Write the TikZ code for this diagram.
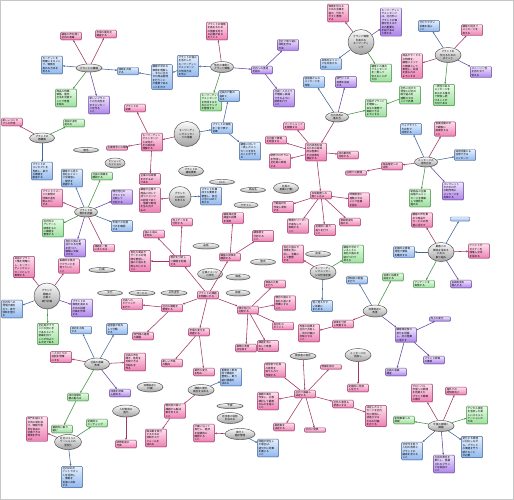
\documentclass[tikz,border=0pt]{standalone}
\usepackage{fontspec}
\setmainfont{Noto Sans CJK JP}
\usetikzlibrary{shapes.geometric,arrows.meta,shadows}
\definecolor{pkT}{HTML}{FDE2EE}\definecolor{pkB}{HTML}{EE80B4}\definecolor{pkD}{HTML}{A03464}
\definecolor{blT}{HTML}{E6F0FD}\definecolor{blB}{HTML}{90B8EE}\definecolor{blD}{HTML}{44659A}
\definecolor{grT}{HTML}{E8FBE8}\definecolor{grB}{HTML}{9CE09C}\definecolor{grD}{HTML}{449044}
\definecolor{puT}{HTML}{F0E6FD}\definecolor{puB}{HTML}{AE84EA}\definecolor{puD}{HTML}{6644A0}
\definecolor{elT}{HTML}{FBFBFB}\definecolor{elB}{HTML}{A2A2A2}\definecolor{elD}{HTML}{505050}
\tikzset{
 shd/.style={drop shadow={shadow xshift=0.5pt,shadow yshift=-0.5pt,fill=black!35}},
 bx/.style={draw,rounded corners=0.8pt,line width=0.45pt,inner sep=0.9pt,text width=19pt,align=left,font=\fontsize{2.6}{3.4}\selectfont,shd},
 pk/.style={bx,draw=pkD,top color=pkT,bottom color=pkB},
 bl/.style={bx,draw=blD,top color=blT,bottom color=blB},
 gr/.style={bx,draw=grD,top color=grT,bottom color=grB},
 pu/.style={bx,draw=puD,top color=puT,bottom color=puB},
 E/.style 2 args={ellipse,draw=elD,line width=0.45pt,top color=elT,bottom color=elB,inner sep=0pt,align=center,font=\fontsize{2.6}{3.4}\selectfont,minimum width=#1pt,minimum height=#2pt,shd},
 ln/.style={line width=0.55pt,-{Stealth[length=2.2pt,width=1.8pt]}},
 lp/.style={ln,draw=pkD},lb/.style={ln,draw=blD},lg/.style={ln,draw=grD},lu/.style={ln,draw=puD}
}
\begin{document}
\begin{tikzpicture}[x=1pt,y=-1pt]
\useasboundingbox (0,0) rectangle (514,500);
\fill[white] (0,0) rectangle (514,500);
\draw[gray!45,line width=0.6pt] (0.8,0.8) rectangle (513.2,499.2);
% ---- cluster A
\node[E={26}{8}] (eA) at (89,68) {ブランドの課題};
\node[pk] (a1) at (71,36) {顧客の声を聞く\\社内の意識};
\node[pk] (a2) at (106,34) {市場の動向を\\調査する};
\node[bl] (a3) at (52,65) {ターゲットを\\明確にすること\\で、価値を\\高める方法を\\考える};
\node[gr] (a4) at (66,98) {商品の特徴、\\価格、販売\\方法を見直す\\ことで改善\\を図る};
\node[pu] (a5) at (99,105) {新しいブラン\\ドの方向性を\\示すメッセー\\ジを作る\\こと};
\node[bl] (a6) at (128,71) {情報を共有\\する};
% ---- cluster B
\node[E={23}{11}] (eB) at (222,67) {他社の事例と\\ブランド戦略};
\node[pk] (b1) at (217,31) {ブランドの価値\\を高めるため\\の施策を考え\\る必要がある\\ポイント};
\node[bl] (b2) at (188,66) {ブランドの強み\\を活かした\\キーワーディン\\グメッセージ\\の作成方法\\を学ぶ};
\node[bl] (b3) at (162,77) {顧客が求める\\価値を理解し\\、それに合わ\\せた商品開発\\を行うこと\\が重要である\\ことを示す};
\node[pu] (b4) at (262,70) {社内への浸透\\を図る};
\node[gr] (b5) at (211,102) {キーワーディン\\グメッセージ\\を作成するた\\めのステップ\\を整理する};
\node[pu] (b6) at (288,45) {全社で取り組む\\体制を作る\\方法};
\node[pu] (b7) at (284,98) {社員一人ひとり\\が理解し実践\\できるように\\研修を行う\\こと};
% ---- cluster C
\node[E={26}{25}] (eC) at (361,42) {ブランド価値\\を高める\\キーワーディ\\ング};
\node[pk] (c1) at (338,13) {価値を伝える\\ための言葉を\\選び、分かり\\やすく表現\\する};
\node[pu] (c2) at (391,22) {キーワーディン\\グメッセージ\\は、社内外に\\ブランドの価\\値を伝えるた\\めの重要な\\手段である\\と考える};
\node[bl] (c3) at (331,64) {具体的なイメー\\ジを共有する\\方法};
\node[gr] (c4) at (381,73) {顧客との接点\\でメッセージ\\を一貫して\\伝えることが\\大切};
% ---- cluster D
\node[E={23}{10}] (eD) at (337,117) {社内浸透の\\進め方};
\node[bl] (d1) at (314,82) {経営層からの\\メッセージを\\発信};
\node[pu] (d2) at (346,82) {部門ごとの\\目標を設定\\する};
\node[gr] (d3) at (376,108) {社員がブランド\\を理解し、\\日々の業務で\\実践できる\\ようにする};
\node[pk] (d4) at (316,152) {社内浸透を図\\るための具体\\的な施策と\\その効果を\\検証する};
\node[pk] (d5) at (294,126) {ワークショップ\\を開催する};
\node[pk] (d6) at (276,140) {社内報で情報\\を発信する};
\node[pk] (d7) at (280,161) {研修プログラム\\を作成し、\\全社員に実施\\する};
\node[pk] (d8) at (348,155) {成功事例を\\共有する};
\node[pk] (d9) at (321,195) {日常業務への\\落とし込み};
% ---- cluster E
\node[pk] (e1) at (283,207) {行動指針を\\作成し周知\\する};
\node[pk] (e2) at (359,200) {評価制度と\\連動させる\\ことで定着\\を図る};
\node[pk] (e3) at (298,226) {現場のリーダー\\が率先して\\実践する\\こと};
\node[pk] (e4) at (325,230) {定期的に振り\\返りを行う\\こと};
\node[pk] (e5) at (350,222) {表彰制度を\\設ける};
% ---- cluster F
\node[E={26}{15}] (eF) at (448,55) {ブランドを\\伝えるための\\ポイント};
\node[bl] (f1) at (429,26) {分かりやすい\\言葉を選ぶ\\こと};
\node[pk] (f2) at (472,30) {顧客の視点で\\メッセージを\\考える};
\node[pk] (f3) at (412,66) {商品やサービス\\の特徴を、\\顧客にとって\\の価値として\\表現し、共感\\を得られる\\ようにする};
\node[pu] (f4) at (481,72) {ストーリー性\\を持たせて\\伝える};
\node[gr] (f5) at (444,95) {一貫性のある\\メッセージを\\あらゆる接点\\で発信し続\\けることが\\大切である};
\node[gr] (f6) at (410,95) {社外に向けた\\発信と社内の\\取り組みを\\連動させる\\ことで効果};
% ---- cluster G
\node[E={23}{10}] (eG) at (426,162) {メッセージの\\活用方法};
\node[bl] (g1) at (411,129) {ウェブサイト\\や広告で\\活用する};
\node[pk] (g2) at (445,129) {営業活動の中\\で顧客に\\直接伝える\\こと};
\node[bl] (g3) at (465,155) {採用活動にも\\活用できる\\メッセージ};
\node[pk] (g4) at (392,166) {商品開発への\\活用};
\node[gr] (g5) at (420,198) {新商品の企画\\段階からメッ\\セージを意識\\して開発を\\進める};
\node[pu] (g6) at (453,191) {パンフレット\\やカタログ\\の制作時に\\メッセージを\\反映する};
\node[pk] (g7) at (356,173) {店頭での展開};
% ---- cluster H
\node[E={26}{19}] (eH) at (441,252) {顧客との\\関係を深める\\ための\\取り組み};
\node[pk] (h1) at (422,220) {顧客の声を集\\めて商品や\\サービスの改\\善に活かす};
\node[bl,minimum height=4pt,inner sep=0pt] (h2) at (460,219) {};
\node[bl] (h3) at (404,252) {定期的な情報\\発信で関係\\を維持する};
\node[pk] (h4) at (479,251) {イベントや\\セミナーを\\開催し交流\\を深める};
\node[gr] (h5) at (424,284) {アンケートを\\実施する};
\node[pu] (h6) at (461,284) {会員制度を\\導入する};
% ---- cluster I
\node[E={24}{12}] (eI) at (375,311) {効果測定と\\改善};
\node[gr] (i1) at (393,277) {目標と指標を\\設定する};
\node[bl] (i2) at (357,280) {認知度の調査\\を行う};
\node[pk] (i3) at (343,324) {結果を分析\\し改善する};
\node[pu] (i4) at (406,335) {顧客満足度の\\変化を把握\\し、次の施策\\に活かす};
\node[pk] (i5) at (309,333) {改善の結果を\\社内で共有し\\、次の計画に\\反映させる\\こと};
\node[pu] (i6) at (440,319) {売上の変化};
\node[pu] (i7) at (434,360) {ブランド評価\\の推移};
\node[pu] (i8) at (396,372) {社員の意識\\調査};
% ---- cluster J
\node[E={26}{15}] (eJ) at (323,272) {キーワーディ\\ングメッセー\\ジの作成手順};
\node[pk] (j1) at (293,254) {自社の強みや\\特徴を洗い\\出し、言葉に\\して整理\\する};
\node[gr] (j2) at (353,254) {顧客が求めて\\いることと\\自社の強みを\\結びつけて\\考える};
\node[bl] (j3) at (322,306) {短く覚えやす\\い言葉に\\まとめる};
\node[E={25}{6}] (ej) at (318,254) {完成};
% ---- cluster K
\node[pk] (k0) at (305,394) {社内で議論し\\決定する};
\node[E={26}{7}] (ek) at (303,356) {関係者の意見};
\node[pk] (k1) at (275,370) {経営者や社員\\の意見を\\取り入れて\\作成する};
\node[pk] (k2) at (331,367) {候補を絞る};
\node[pk] (k3) at (268,401) {複数の案を\\作成し、比較\\検討して最適\\なものを選ぶ\\こと};
\node[pk] (k4) at (343,404) {社外の意見も\\参考にする};
\node[pk] (k5) at (284,427) {最終案を\\決定する};
\node[pk] (k6) at (315,430) {社内に発表};
\node[pk] (k7) at (376,416) {決定したメッ\\セージを社内\\外に発信し、\\浸透させる\\ための計画\\を立てる};
\node[E={26}{13}] (el2) at (358,355) {メッセージの\\見直し};
\node[pk] (k8) at (358,388) {定期的に見直\\しを行う};
\node[pk] (k9) at (268,346) {課題を洗い\\出して改善\\する};
% ---- cluster L
\node[pk] (pL) at (208,295) {ブランドの課題\\を明確にする};
\node[pk] (l1) at (180,261) {現状を分析し\\て課題を把握\\する};
\node[pk] (l2) at (230,257) {顧客の評価を\\確認する};
\node[pk] (l3) at (172,308) {社内の課題を\\整理する};
\node[pk] (l4) at (199,332) {市場の変化を\\把握する};
\node[pk] (l5) at (248,310) {競合他社と\\比較する};
\node[pk] (l6) at (182,222) {売上データを\\分析する};
\node[pk] (l7) at (154,234) {強みと弱み\\を知る};
\node[pk] (l8) at (140,261) {自社の商品や\\サービスの特\\徴を整理し、\\強みと弱みを\\明らかにする\\こと};
\node[pk] (l9) at (233,218) {顧客満足度\\調査の結果\\を活用};
\node[pk] (l10) at (132,304) {社員への\\ヒアリング\\を行う};
\node[pk] (l11) at (143,336) {部門間の連携\\の課題};
\node[pk] (l12) at (172,363) {新しい市場\\の動向};
\node[pk] (l13) at (204,372) {業界の変化\\を知る};
\node[pk] (l14) at (275,284) {価格の比較\\を行う};
\node[pk] (l15) at (285,303) {競合の強みと\\自社の違いを\\明確にする\\こと};
\node[pk] (l16) at (283,326) {差別化の\\ポイント};
\node[pk] (l17) at (246,348) {業務の改善\\点を探す};
\node[pk] (l18) at (263,236) {顧客層を\\分析する\\こと};
% ---- cluster M / N
\node[E={26}{11}] (eM) at (201,390) {課題の優先\\順位を決める};
\node[bl] (m1) at (231,377) {重要度と緊急\\度で課題を\\整理し、取り\\組む順番を\\決める};
\node[pk] (m2) at (175,411) {優先度の高い\\課題から解決\\策を考える\\こと};
\node[pk] (m3) at (156,438) {解決策を実行\\するための\\体制やスケ\\ジュールを\\決める};
\node[E={26}{10}] (x1) at (150,387) {目標設定と\\計画};
\node[E={26}{5}] (x2) at (230,406) {予算};
\node[E={26}{11}] (x3) at (230,418) {担当者の役割\\を決める};
\node[E={30}{11}] (eN) at (240,434) {実行と\\進捗管理};
\node[pk] (n1) at (204,433) {計画に沿って\\実行し、進捗\\を定期的に\\確認する\\こと};
\node[bl] (n2) at (268,448) {問題が発生し\\た場合は、\\速やかに対策\\を講じる\\こと};
% ---- cluster O
\node[E={26}{25}] (eO) at (187,134) {キーワーディ\\ングメッセー\\ジの意義};
\node[pk] (o1) at (152,142) {キーワーディン\\グメッセージ\\とは何か、\\その目的を\\理解する};
\node[bl] (o2) at (222,128) {ブランドの価値\\を一言で表す\\言葉};
\node[bl] (o3) at (229,96) {社員の行動の\\指針と\\なる};
\node[bl] (o4) at (250,151) {顧客に対して\\一貫したメッ\\セージを伝え\\ることができ\\る};
\node[pk] (o5) at (135,108) {ブランドの\\定義};
\node[pk] (o6) at (117,148) {企業理念との関係};
\node[pk] (o7) at (150,179) {企業の将来像\\を示すもの\\である};
% ---- cluster P
\node[E={22}{21}] (eP) at (180,197) {ブランド\\とは何か\\を考える};
\node[pk] (p1) at (150,200) {顧客が企業や\\商品に対して\\持つイメージ\\の総体であり\\、信頼や期待\\を生み出す\\もの};
\node[bl] (p2) at (211,196) {ブランドを構\\成する要素を\\整理し、自社\\に当てはめて\\考える};
% ---- isolated ellipses
\node[E={25}{10}] (y1) at (191,171) {ブランドの\\構成要素};
\node[E={25}{5}] (y2) at (222,182) {ロゴ};
\node[E={25}{5}] (y3) at (253,190) {商品名};
\node[E={24}{6}] (y4) at (246,205) {デザイン};
\node[E={26}{6}] (y5) at (206,246) {品質};
\node[E={25}{11}] (y6) at (210,274) {企業イメージ\\と評判};
\node[E={24}{6}] (y7) at (238,277) {価格};
\node[E={26}{5}] (y8) at (142,293) {サービス};
\node[E={26}{5}] (y9) at (174,293) {広告宣伝};
\node[E={24}{6}] (y10) at (238,293) {接客};
\node[E={25}{6}] (y11) at (263,262) {歴史};
\node[E={25}{11}] (y12) at (286,188) {社員の\\意識と行動};
\node[E={25}{5}] (y13) at (86,150) {理念};
\node[E={20}{10}] (y14) at (115,163) {ビジョンと\\ミッション};
\node[E={26}{5}] (y15) at (102,270) {社風};
\node[E={25}{5}] (y16) at (110,293) {文化};
% ---- cluster Q
\node[E={23}{10}] (eQ) at (86,212) {ブランドの\\現状を把握};
\node[bl] (q1) at (72,178) {顧客から見た\\自社のイメー\\ジを調査し\\、現状を\\把握する};
\node[gr] (q2) at (102,176) {社員の認識を\\確認する};
\node[pk] (q3) at (52,198) {ブランドイメー\\ジと実際の\\評価の差を\\明らかに\\する};
\node[pu] (q4) at (122,197) {競合他社の\\ブランドと\\比較して\\分析する};
\node[bl] (q5) at (122,226) {市場での位置\\づけを確認\\する};
\node[gr] (q6) at (53,228) {社内外の\\アンケート\\結果をもと\\に課題を\\整理する};
\node[pu] (q7) at (75,248) {自社の強みを\\活かせる分野\\を見つけ、\\戦略に反映\\させる};
\node[pk] (q8) at (104,248) {課題を一覧\\にまとめる};
% ---- cluster R
\node[E={25}{10}] (eR) at (42,138) {ブランドの\\再構築};
\node[pk] (r1) at (12,122) {新しいコンセ\\プトの作成};
\node[gr] (r2) at (74,123) {目指す姿を\\定める};
\node[bl] (r3) at (42,171) {ブランドの\\コンセプトを\\見直し、新た\\な価値を\\創造する};
% ---- cluster S
\node[E={26}{26}] (eS) at (47,296) {ブランド\\戦略の\\立案と\\実行計画};
\node[pk] (s1) at (24,267) {目指すブラン\\ド像を明確に\\し、キーワー\\ディングメッ\\セージとして\\表現する};
\node[pk] (s2) at (69,266) {長期的な視点\\でブランドを\\育てていく\\こと};
\node[bl] (s3) at (12,309) {社内外への\\発信計画を\\立て、実行\\体制を整え\\る};
\node[pu] (s4) at (82,308) {ブランドの\\価値を高める\\ための投資\\計画を作成\\する};
\node[gr] (s5) at (48,334) {全社員がブラ\\ンドの担い手\\であるという\\意識を持つ\\ことが何より\\も大切である};
% ---- cluster T
\node[E={25}{12}] (eT) at (97,364) {社員の意識\\改革};
\node[bl] (t1) at (81,330) {目的を共有\\する};
\node[bl] (t2) at (117,329) {経営層が率先\\して行動\\する};
\node[pk] (t3) at (61,357) {一人ひとりの\\役割を明確\\にする};
\node[pk] (t4) at (135,362) {社員の声を\\聞き、意見を\\反映できる\\仕組みを\\作る};
\node[pu] (t5) at (120,393) {成果を評価\\し認める};
\node[gr] (t6) at (78,397) {成功体験を\\積み重ねる};
\node[gr] (t7) at (62,429) {継続的に取り\\組む};
% ---- cluster U / V
\node[E={27}{15}] (eU) at (68,442) {社内コミュニ\\ケーションの\\活性化};
\node[pk] (u1) at (37,429) {部門を越えた\\交流の場を設\\け、情報や意\\見を自由に\\交換できる\\環境を作る\\こと};
\node[gr] (u2) at (97,423) {定期的な\\ミーティング};
\node[bl] (u3) at (72,477) {社内SNSや\\イントラネッ\\トを活用し\\、情報を\\迅速に共有\\する};
\node[E={27}{12}] (eV) at (126,411) {人材育成の\\強化};
\node[pk] (v1) at (126,444) {研修制度の\\充実};
% ---- cluster W
\node[E={26}{11}] (eW) at (441,426) {今後の展開と\\課題};
\node[pk] (w1) at (422,393) {グローバル\\市場への展開\\を見据えた\\ブランド戦略\\の検討};
\node[pk] (w2) at (456,391) {海外での\\認知度向上};
\node[gr] (w3) at (404,420) {新規事業への\\展開};
\node[gr] (w4) at (477,415) {デジタル技術\\を活用した新\\しいコミュニ\\ケーションの\\方法};
\node[bl] (w5) at (412,451) {次世代を担う\\人材の育成と\\ブランドの\\継承を考える\\こと};
\node[pu] (w6) at (444,464) {社会的責任を\\果たし、信頼\\されるブラン\\ドを目指す\\こと};
\node[bl] (w7) at (472,447) {変化する環境\\に対応しなが\\ら、ブランド\\の価値を守り\\続けること\\が必要};
% ================= connectors
\draw[lp] (eA)--(a1); \draw[lp] (eA)--(a2); \draw[lb] (eA)--(a3); \draw[lg] (eA)--(a4); \draw[lu] (eA)--(a5); \draw[lb] (eA)--(a6);
\draw[lp] (eB)--(b1); \draw[lb] (eB)--(b2); \draw[lu] (eB)--(b4); \draw[lg] (eB)--(b5); \draw[lb] (b2)--(b3); \draw[lb] (b3)--(a6); \draw[lu] (b4)--(b6); \draw[lu] (b4)--(b7);
\draw[lp] (eC)--(c1); \draw[lu] (eC)--(c2); \draw[lb] (eC)--(c3); \draw[lg] (eC)--(c4);
\draw[lb] (eD)--(d1); \draw[lu] (eD)--(d2); \draw[lg] (eD)--(d3); \draw[lp] (eD)--(d4);
\draw[lp] (d4)--(d5); \draw[lp] (d4)--(d6); \draw[lp] (d4)--(d7); \draw[lp] (d4)--(d8); \draw[lp] (d4)--(d9);
\draw[lp] (d9)--(e1); \draw[lp] (d9)--(e2); \draw[lp] (d9)--(e3); \draw[lp] (d9)--(e4); \draw[lp] (d9)--(e5);
\draw[lb] (eF)--(f1); \draw[lp] (eF)--(f2); \draw[lp] (eF)--(f3); \draw[lu] (eF)--(f4); \draw[lg] (eF)--(f5); \draw[lg] (f6)--(d3);
\draw[lb] (eG)--(g1); \draw[lp] (eG)--(g2); \draw[lb] (eG)--(g3); \draw[lp] (eG)--(g4); \draw[lg] (eG)--(g5); \draw[lu] (eG)--(g6); \draw[lp] (g4)--(g7);
\draw[lp] (eH)--(h1); \draw[lb] (eH)--(h2); \draw[lb] (eH)--(h3); \draw[lp] (eH)--(h4); \draw[lg] (eH)--(h5); \draw[lu] (eH)--(h6);
\draw[lg] (eI)--(i1); \draw[lb] (eI)--(i2); \draw[lp] (eI)--(i3); \draw[lu] (eI)--(i4); \draw[lp] (i3)--(i5); \draw[lu] (i4)--(i6); \draw[lu] (i4)--(i7); \draw[lu] (i4)--(i8);
\draw[lp] (eJ)--(j1); \draw[lg] (eJ)--(j2); \draw[lb] (eJ)--(j3);
\draw[lp] (ek)--(k0); \draw[lp] (k0)--(k1); \draw[lp] (k0)--(k2); \draw[lp] (k0)--(k3); \draw[lp] (k0)--(k4); \draw[lp] (k0)--(k5); \draw[lp] (k0)--(k6); \draw[lp] (k4)--(k7); \draw[lp] (el2)--(k8);
\draw[lp] (pL)--(l1); \draw[lp] (pL)--(l2); \draw[lp] (pL)--(l3); \draw[lp] (pL)--(l4); \draw[lp] (pL)--(l5);
\draw[lp] (l1)--(l6); \draw[lp] (l1)--(l7); \draw[lp] (l1)--(l8); \draw[lp] (l2)--(l9); \draw[lp] (l2)--(l18); \draw[lp] (l3)--(l10); \draw[lp] (l3)--(l11); \draw[lp] (l4)--(l12); \draw[lp] (l4)--(l13);
\draw[lp] (l5)--(l14); \draw[lp] (l5)--(l15); \draw[lp] (l5)--(l16); \draw[lp] (l5)--(l17); \draw[lp] (l5)--(k9);
\draw[lb] (eM)--(m1); \draw[lp] (eM)--(m2); \draw[lp] (m2)--(m3); \draw[lp] (eN)--(n1); \draw[lb] (eN)--(n2);
\draw[lp] (eO)--(o1); \draw[lb] (eO)--(o2); \draw[lb] (o2)--(o3); \draw[lb] (o2)--(o4); \draw[lp] (o1)--(o5); \draw[lp] (o1)--(o6); \draw[lp] (o1)--(o7);
\draw[lp] (eP)--(p1); \draw[lb] (eP)--(p2);
\draw[lb] (eQ)--(q1); \draw[lg] (eQ)--(q2); \draw[lp] (eQ)--(q3); \draw[lu] (eQ)--(q4); \draw[lb] (eQ)--(q5); \draw[lg] (eQ)--(q6); \draw[lu] (eQ)--(q7); \draw[lp] (eQ)--(q8);
\draw[lp] (eR)--(r1); \draw[lg] (eR)--(r2); \draw[lb] (eR)--(r3);
\draw[lp] (eS)--(s1); \draw[lp] (eS)--(s2); \draw[lb] (eS)--(s3); \draw[lu] (eS)--(s4); \draw[lg] (eS)--(s5);
\draw[lb] (eT)--(t1); \draw[lb] (eT)--(t2); \draw[lp] (eT)--(t3); \draw[lp] (eT)--(t4); \draw[lu] (eT)--(t5); \draw[lg] (eT)--(t6); \draw[lg] (t6)--(t7);
\draw[lp] (eU)--(u1); \draw[lg] (eU)--(u2); \draw[lb] (eU)--(u3);
\draw[lp] (eV)--(v1);
\draw[lp] (eW)--(w1); \draw[lp] (eW)--(w2); \draw[lg] (eW)--(w3); \draw[lg] (eW)--(w4); \draw[lb] (eW)--(w5); \draw[lu] (eW)--(w6); \draw[lb] (eW)--(w7);
\end{tikzpicture}
\end{document}
